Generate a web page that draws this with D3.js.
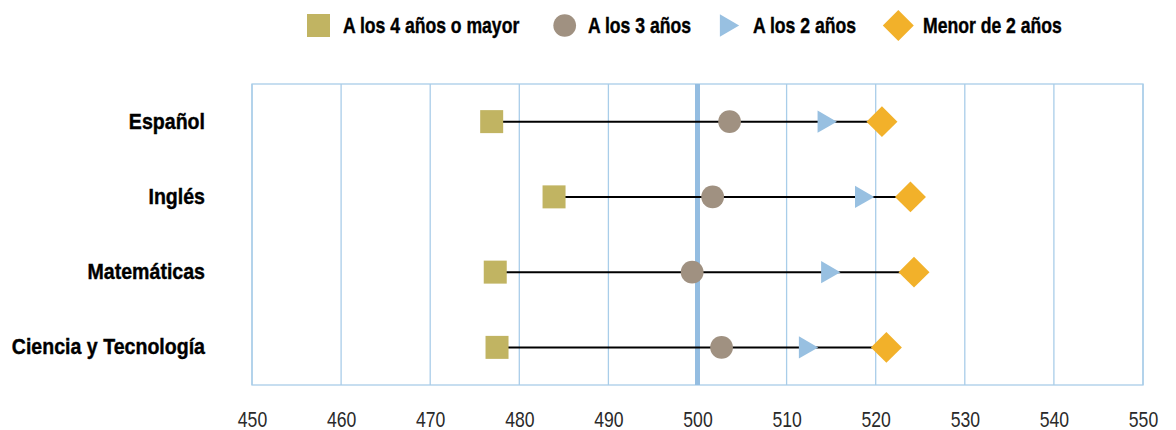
<!DOCTYPE html>
<html>
<head>
<meta charset="utf-8">
<script src="https://cdn.jsdelivr.net/npm/d3@7"></script>
<style>
  body { margin: 0; background: #fff; }
  svg text { font-family: "Liberation Sans", Arial, sans-serif; }
</style>
</head>
<body>
<svg width="1176" height="430"></svg>
<script>
const SUBJECTS = ['Español', 'Inglés', 'Matemáticas', 'Ciencia y Tecnología']
const SERIES = ['A los 4 años o mayor', 'A los 3 años', 'A los 2 años', 'Menor de 2 años']
const AGE4 = [476.9, 483.9, 477.3, 477.5]
const AGE3 = [503.6, 501.7, 499.4, 502.7]
const AGE2 = [514.2, 518.4, 514.6, 512.1]
const UNDER2 = [520.7, 523.9, 524.3, 521.2]
const TICKS = [450, 460, 470, 480, 490, 500, 510, 520, 530, 540, 550]
const REFERENCE = 500

const COLORS = ['#c1b462', '#a09181', '#98c0e1', '#f2b12a']
const GRID = '#a9cde9'

const svg = d3.select('svg')
const margin = { top: 84, right: 33, bottom: 45, left: 252 }
const width = 1176
const height = 430

const x = d3.scaleLinear().domain([450, 550]).range([margin.left, width - margin.right])
const y = d3.scaleBand().domain(SUBJECTS).range([margin.top, height - margin.bottom])

// symbol shapes per series (triangle turned to point right, square turned into a diamond)
const shapes = [
  { type: d3.symbolSquare, size: 529, rotate: 0 },
  { type: d3.symbolCircle, size: 405, rotate: 0 },
  { type: d3.symbolTriangle, size: 215, rotate: 90 },
  { type: d3.symbolSquare, size: 480, rotate: 45 }
]
const symbolPath = i => d3.symbol().type(shapes[i].type).size(shapes[i].size)()

// gridlines + frame
svg.append('g')
  .selectAll('line')
  .data(TICKS)
  .enter().append('line')
  .attr('x1', d => x(d)).attr('x2', d => x(d))
  .attr('y1', margin.top).attr('y2', height - margin.bottom)
  .attr('stroke', GRID)
  .attr('stroke-width', 1.3)

svg.append('rect')
  .attr('x', x(450)).attr('y', margin.top)
  .attr('width', x(550) - x(450)).attr('height', height - margin.bottom - margin.top)
  .attr('fill', 'none')
  .attr('stroke', GRID)
  .attr('stroke-width', 1.3)

svg.append('line')
  .attr('x1', x(REFERENCE)).attr('x2', x(REFERENCE))
  .attr('y1', margin.top).attr('y2', height - margin.bottom)
  .attr('stroke', '#94bde1')
  .attr('stroke-width', 5)

// x axis labels
const ax = svg.append('g')
  .attr('transform', 'translate(0, 427)')
  .call(d3.axisBottom(x).tickValues(TICKS).tickSize(0).tickPadding(0))
ax.select('.domain').remove()
ax.selectAll('text')
  .attr('y', 0)
  .attr('dy', 0)
  .attr('transform', 'scale(0.8, 1)')
  .attr('font-size', 22)
  .attr('fill', '#2a2a2a')
  .style('font-family', '"Liberation Sans", Arial, sans-serif')

// subject labels
const ay = svg.append('g')
  .attr('transform', 'translate(205, 0)')
  .call(d3.axisLeft(y).tickSize(0).tickPadding(0))
ay.select('.domain').remove()
ay.selectAll('text')
  .attr('x', 0)
  .attr('dy', '0.32em')
  .attr('transform', 'scale(0.89, 1)')
  .attr('font-size', 22)
  .attr('font-weight', 'bold')
  .attr('fill', '#000')
  .attr('stroke', '#000')
  .attr('stroke-width', 0.4)
  .style('font-family', '"Liberation Sans", Arial, sans-serif')

// rows
const rows = SUBJECTS.map((s, i) => ({
  subject: s,
  values: [AGE4[i], AGE3[i], AGE2[i], UNDER2[i]]
}))

const row = svg.append('g')
  .selectAll('g')
  .data(rows)
  .enter().append('g')
  .attr('transform', d => `translate(0, ${y(d.subject) + y.bandwidth() / 2})`)

row.append('line')
  .attr('x1', d => x(d3.min(d.values)))
  .attr('x2', d => x(d3.max(d.values)))
  .attr('stroke', '#000')
  .attr('stroke-width', 2)

row.selectAll('path')
  .data(d => d.values)
  .enter().append('path')
  .attr('d', (v, i) => symbolPath(i))
  .attr('transform', (v, i) => `translate(${x(v)}, 0) rotate(${shapes[i].rotate})`)
  .attr('fill', (v, i) => COLORS[i])

// legend
const legendX = [318.5, 564.7, 726.3, 898.3]
const legendTextX = [343, 588, 753, 923]
const legend = svg.append('g')
  .selectAll('g')
  .data(SERIES)
  .enter().append('g')
  .attr('transform', (d, i) => `translate(${legendX[i]}, 25.5)`)

legend.append('path')
  .attr('d', (d, i) => symbolPath(i))
  .attr('transform', (d, i) => `rotate(${shapes[i].rotate})`)
  .attr('fill', (d, i) => COLORS[i])

legend.append('text')
  .attr('transform', (d, i) => `translate(${legendTextX[i] - legendX[i]}, 7.5) scale(0.8, 1)`)
  .attr('font-size', 22)
  .attr('font-weight', 'bold')
  .attr('fill', '#000')
  .attr('stroke', '#000')
  .attr('stroke-width', 0.4)
  .text(d => d)
</script>
</body>
</html>
